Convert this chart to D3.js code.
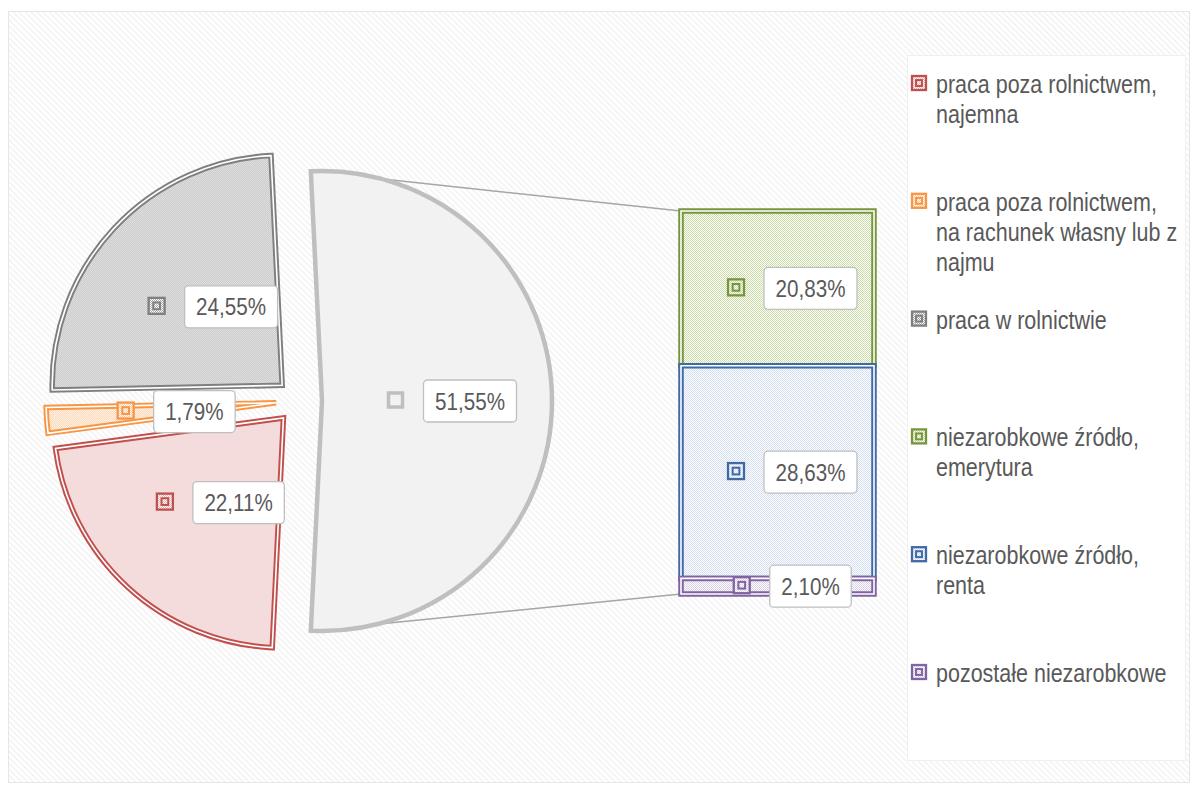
<!DOCTYPE html>
<html>
<head>
<meta charset="utf-8">
<script src="https://cdn.jsdelivr.net/npm/d3@7"></script>
<style>
  body { margin: 0; background: #ffffff; }
  svg { display: block; }
</style>
</head>
<body>
<svg id="chart" width="1198" height="785"></svg>
<script>
// Pie part: individual income sources
const pieCategories = [
  "praca poza rolnictwem, najemna",
  "praca poza rolnictwem, na rachunek własny lub z najmu",
  "praca w rolnictwie"
];
const pieValues = [22.11, 1.79, 24.55];

// Combined slice broken down in the bar
const otherValue = 51.55;
const barCategories = [
  "niezarobkowe źródło, emerytura",
  "niezarobkowe źródło, renta",
  "pozostałe niezarobkowe"
];
const barValues = [20.83, 28.63, 2.10];

// Series styling: outline colour and dotted fill colour
const pieLineColors = ["#c0504d", "#f79646", "#7f7f7f"];
const pieDotColors  = ["#e8b9b8", "#fbcb9f", "#ababab"];
const barLineColors = ["#77963c", "#3f6aa6", "#8064a2"];
const barDotColors  = ["#c8dba4", "#d3def2", "#d9d0e6"];

const FONT = "'Liberation Sans Narrow', 'Arial Narrow', 'Liberation Sans', Arial, sans-serif";
const TEXT_COLOR = "#595959";
const LEGEND_FS = 25, LABEL_FS = 24;
const NARROW = 0.86;   // horizontal condensing applied to text

const svg = d3.select("#chart");
const defs = svg.append("defs");

// condensed text placed with its baseline-left at (x, y); returns the drawn width
function narrowText(parent, str, x, y, size) {
  const t = parent.append("text")
    .attr("font-family", FONT).attr("font-size", size).attr("fill", TEXT_COLOR)
    .attr("transform", `translate(${x},${y}) scale(${NARROW},1)`)
    .text(str);
  return { node: t, width: t.node().getComputedTextLength() * NARROW };
}

// light downward-diagonal background
const stripe = 4.24;
const bgPat = defs.append("pattern")
  .attr("id", "bgStripes")
  .attr("patternUnits", "userSpaceOnUse")
  .attr("width", stripe).attr("height", stripe)
  .attr("patternTransform", "rotate(-45)");
bgPat.append("rect").attr("width", stripe).attr("height", stripe).attr("fill", "#ffffff");
bgPat.append("rect").attr("width", 1.4).attr("height", stripe).attr("fill", "#f2f2f2");

// fine checker fill for each series
function checker(id, color) {
  const p = defs.append("pattern")
    .attr("id", id)
    .attr("patternUnits", "userSpaceOnUse")
    .attr("width", 2).attr("height", 2);
  p.append("rect").attr("width", 2).attr("height", 2).attr("fill", "#ffffff");
  p.append("rect").attr("x", 0).attr("y", 0).attr("width", 1).attr("height", 1).attr("fill", color);
  p.append("rect").attr("x", 1).attr("y", 1).attr("width", 1).attr("height", 1).attr("fill", color);
  return `url(#${id})`;
}

const pieSeries = pieCategories.map((name, i) => ({
  name, value: pieValues[i], line: pieLineColors[i],
  fill: checker("pie" + i, pieDotColors[i]), kind: "double"
}));
const barSeries = barCategories.map((name, i) => ({
  name, value: barValues[i], line: barLineColors[i],
  fill: checker("bar" + i, barDotColors[i]), kind: "double"
}));
const otherSeries = { name: "other", value: otherValue, line: "#bfbfbf", fill: "#f2f2f2", kind: "solid" };

// chart area
svg.append("rect")
  .attr("x", 8.5).attr("y", 11.5)
  .attr("width", 1181).attr("height", 771)
  .attr("fill", "url(#bgStripes)")
  .attr("stroke", "#e6e6e6").attr("stroke-width", 1);

const fmt = d3.formatLocale({ decimal: ",", thousands: " ", grouping: [3], currency: ["", " zł"] }).format(".2f");

// ---- pie geometry ----
const cx0 = 299, cy0 = 401, R = 230, explode = 0.1 * R;
const pieData = [otherSeries, ...pieSeries];
const pieTotal = d3.sum(pieData, d => d.value);
const a0 = Math.PI / 2 - Math.PI * otherValue / pieTotal;
const pie = d3.pie().sort(null).value(d => d.value).startAngle(a0).endAngle(a0 + 2 * Math.PI);
const arcs = pie(pieData);
const arcGen = d3.arc().innerRadius(0).outerRadius(R);

arcs.forEach(a => {
  const mid = (a.startAngle + a.endAngle) / 2;
  a.ox = cx0 + explode * Math.sin(mid);
  a.oy = cy0 - explode * Math.cos(mid);
});

// ---- bar geometry ----
const barTotal = d3.sum(barValues);
const xBar = d3.scaleBand().domain(["other"]).range([681, 874]).padding(0);
const yBar = d3.scaleLinear().domain([0, barTotal]).range([211, 594]);
let acc = 0;
barSeries.forEach(s => { s.y0 = acc; acc += s.value; s.y1 = acc; });

// ---- connector lines (drawn beneath the slices) ----
const otherArc = arcs[0];
const pTop = [otherArc.ox + R * Math.sin(otherArc.startAngle), otherArc.oy - R * Math.cos(otherArc.startAngle)];
const pBot = [otherArc.ox + R * Math.sin(otherArc.endAngle), otherArc.oy - R * Math.cos(otherArc.endAngle)];
const conn = svg.append("g").attr("stroke", "#a6a6a6").attr("stroke-width", 1.5).attr("fill", "none");
conn.append("line").attr("x1", pTop[0]).attr("y1", pTop[1])
  .attr("x2", xBar("other")).attr("y2", yBar(0));
conn.append("line").attr("x1", pBot[0]).attr("y1", pBot[1])
  .attr("x2", xBar("other")).attr("y2", yBar(barTotal));

// outline helper: double compound line or single solid
function outline(sel, s, pathFn) {
  if (s.kind === "double") {
    sel.append("path").attr("d", pathFn).attr("fill", s.fill).attr("stroke", "none");
    sel.append("path").attr("d", pathFn).attr("fill", "none")
      .attr("stroke", s.line).attr("stroke-width", 5.5).attr("stroke-linejoin", "miter");
    sel.append("path").attr("d", pathFn).attr("fill", "none")
      .attr("stroke", "#ffffff").attr("stroke-width", 1.6).attr("stroke-linejoin", "miter");
  } else {
    sel.append("path").attr("d", pathFn).attr("fill", s.fill)
      .attr("stroke", s.line).attr("stroke-width", 4.5).attr("stroke-linejoin", "miter");
  }
}

// ---- slices ----
const slicesG = svg.append("g");
arcs.forEach(a => {
  const g = slicesG.append("g").attr("transform", `translate(${a.ox},${a.oy})`);
  outline(g, a.data, arcGen(a));
});

// ---- bar segments ----
const barG = svg.append("g");
barSeries.forEach(s => {
  const x0 = xBar("other"), x1 = x0 + xBar.bandwidth();
  const y0 = yBar(s.y0), y1 = yBar(s.y1);
  const p = d3.path();
  p.rect(x0, y0, x1 - x0, y1 - y0);
  outline(barG.append("g"), s, p.toString());
});

// ---- key marker (small square) ----
function keyMarker(sel, s, cx, cy, size) {
  const g = sel.append("g");
  if (s.kind === "double") {
    g.append("rect").attr("x", cx - size / 2).attr("y", cy - size / 2)
      .attr("width", size).attr("height", size)
      .attr("fill", s.fill).attr("stroke", s.line).attr("stroke-width", 2.3);
    const inner = size * 0.42;
    g.append("rect").attr("x", cx - inner / 2).attr("y", cy - inner / 2)
      .attr("width", inner).attr("height", inner)
      .attr("fill", s.fill).attr("stroke", s.line).attr("stroke-width", 2);
  } else {
    g.append("rect").attr("x", cx - size / 2 + 1).attr("y", cy - size / 2 + 1)
      .attr("width", size - 2).attr("height", size - 2)
      .attr("fill", "#f2f2f2").attr("stroke", s.line).attr("stroke-width", 3.5);
  }
}

// ---- data labels ----
const labelG = svg.append("g");
function dataLabel(s, cx, cy) {
  const g = labelG.append("g");
  const boxG = g.append("g");
  const t = narrowText(g, fmt(s.value) + "%", 0, 0, LABEL_FS);
  const tw = t.width;
  const boxW = tw + 23, boxH = 42, mk = 16, gap = 20;
  const groupW = mk + gap + boxW;
  const left = cx + 15 - groupW / 2;
  keyMarker(g, s, left + mk / 2, cy - 1, mk);
  const bx = left + mk + gap;
  boxG.append("rect")
    .attr("x", bx).attr("y", cy - boxH / 2)
    .attr("width", boxW).attr("height", boxH)
    .attr("rx", 4).attr("ry", 4)
    .attr("fill", "#ffffff").attr("stroke", "#bfbfbf").attr("stroke-width", 1.3);
  t.node.attr("transform", `translate(${bx + (boxW - tw) / 2},${cy + 0.36 * LABEL_FS}) scale(${NARROW},1)`);
}

arcs.forEach(a => {
  const c = arcGen.centroid(a);
  dataLabel(a.data, a.ox + c[0], a.oy + c[1]);
});
barSeries.forEach(s => {
  const cx = xBar("other") + xBar.bandwidth() / 2;
  const cy = (yBar(s.y0) + yBar(s.y1)) / 2;
  dataLabel(s, cx, cy);
});

// ---- legend ----
const legendSeries = [...pieSeries, ...barSeries];
const legG = svg.append("g");
legG.append("rect")
  .attr("x", 907.5).attr("y", 55.5).attr("width", 278).attr("height", 705)
  .attr("fill", "#ffffff").attr("stroke", "#f0f0f0").attr("stroke-width", 1);
const yLeg = d3.scaleLinear().domain([0, legendSeries.length - 1]).range([93, 682]);
const textX = 936, maxW = 249, lineH = 30;

// measure a candidate line without leaving it on the page
function lineWidth(str) {
  const m = narrowText(legG, str, 0, -100, LEGEND_FS);
  const w = m.width;
  m.node.remove();
  return w;
}

legendSeries.forEach((s, i) => {
  const base = yLeg(i);
  keyMarker(legG, s, 919, base - 10, 14);
  // wrap words to the legend width
  const lines = [];
  let cur = [];
  s.name.split(" ").forEach(w => {
    const trial = cur.concat([w]);
    if (cur.length && lineWidth(trial.join(" ")) > maxW) {
      lines.push(cur.join(" "));
      cur = [w];
    } else {
      cur = trial;
    }
  });
  if (cur.length) lines.push(cur.join(" "));
  lines.forEach((ln, k) => narrowText(legG, ln, textX, base + k * lineH, LEGEND_FS));
});
</script>
</body>
</html>
